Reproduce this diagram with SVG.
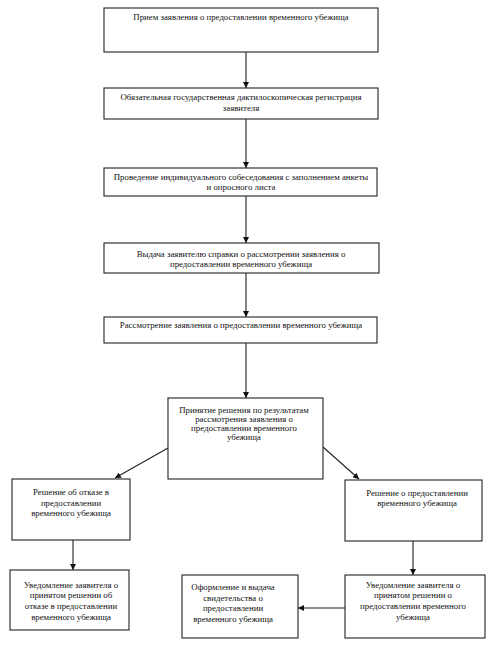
<svg xmlns="http://www.w3.org/2000/svg" width="493" height="645" viewBox="0 0 493 645">
<defs>
<marker id="ah" viewBox="0 0 10 10" refX="10" refY="5" markerWidth="6" markerHeight="6" markerUnits="userSpaceOnUse" orient="auto">
<path d="M0,0 L10,5 L0,10 z" fill="#111"/>
</marker>
<style>
.box{fill:#fff;stroke:#222;stroke-width:1.1}
.t{font-family:"Liberation Serif","Times New Roman",serif;font-size:8.8px;fill:#111;text-anchor:middle}
.c{stroke:#222;stroke-width:1.1;fill:none;marker-end:url(#ah)}
</style>
</defs>
<rect width="493" height="645" fill="#fff"/>
<g id="connectors">
<line class="c" x1="246" y1="52" x2="246" y2="88"/>
<line class="c" x1="246" y1="119" x2="246" y2="168"/>
<line class="c" x1="246" y1="196" x2="246" y2="243"/>
<line class="c" x1="246" y1="273" x2="246" y2="317"/>
<line class="c" x1="246" y1="343" x2="246" y2="398"/>
<line class="c" x1="168" y1="448" x2="115" y2="478"/>
<line class="c" x1="323" y1="447" x2="359" y2="479"/>
<line class="c" x1="73" y1="540" x2="73" y2="570"/>
<line class="c" x1="413" y1="541" x2="413" y2="575"/>
<line class="c" x1="345" y1="608" x2="298" y2="608"/>
</g>
<g id="n1">
<rect class="box" x="104" y="8" width="274" height="44"/>
<text class="t" x="241" y="20">Прием заявления о предоставлении временного убежища</text>
</g>
<g id="n2">
<rect class="box" x="104" y="88" width="274" height="31"/>
<text class="t" x="241" y="100">Обязательная государственная дактилоскопическая регистрация</text>
<text class="t" x="241" y="111">заявителя</text>
</g>
<g id="n3">
<rect class="box" x="104" y="168" width="273" height="28"/>
<text class="t" x="241" y="180">Проведение индивидуального собеседования с заполнением анкеты</text>
<text class="t" x="241" y="190">и опросного листа</text>
</g>
<g id="n4">
<rect class="box" x="104" y="243" width="275" height="30"/>
<text class="t" x="241" y="257">Выдача заявителю справки о рассмотрении заявления о</text>
<text class="t" x="241" y="267">предоставлении временного убежища</text>
</g>
<g id="n5">
<rect class="box" x="104" y="317" width="273" height="26"/>
<text class="t" x="241" y="328">Рассмотрение заявления о предоставлении временного убежища</text>
</g>
<g id="n6">
<rect class="box" x="168" y="398" width="155" height="81"/>
<text class="t" x="244" y="413">Принятие решения по результатам</text>
<text class="t" x="244" y="422">рассмотрения заявления о</text>
<text class="t" x="244" y="431">предоставлении временного</text>
<text class="t" x="244" y="440">убежища</text>
</g>
<g id="n7">
<rect class="box" x="12" y="479" width="118" height="61"/>
<text class="t" x="71" y="495">Решение об отказе в</text>
<text class="t" x="71" y="506">предоставлении</text>
<text class="t" x="71" y="516">временного убежища</text>
</g>
<g id="n8">
<rect class="box" x="345" y="480" width="137" height="61"/>
<text class="t" x="417" y="496">Решение о предоставлении</text>
<text class="t" x="417" y="506">временного убежища</text>
</g>
<g id="n9">
<rect class="box" x="10" y="570" width="119" height="60"/>
<text class="t" x="71" y="588">Уведомление заявителя о</text>
<text class="t" x="71" y="598">принятом решении об</text>
<text class="t" x="71" y="609">отказе в предоставлении</text>
<text class="t" x="71" y="620">временного убежища</text>
</g>
<g id="n10">
<rect class="box" x="182" y="575" width="116" height="63"/>
<text class="t" x="233" y="590">Оформление и выдача</text>
<text class="t" x="233" y="601">свидетельства о</text>
<text class="t" x="233" y="611">предоставлении</text>
<text class="t" x="233" y="622">временного убежища</text>
</g>
<g id="n11">
<rect class="box" x="345" y="575" width="140" height="63"/>
<text class="t" x="413" y="588">Уведомление заявителя о</text>
<text class="t" x="413" y="598">принятом решении о</text>
<text class="t" x="413" y="609">предоставлении временного</text>
<text class="t" x="413" y="620">убежища</text>
</g>
</svg>
